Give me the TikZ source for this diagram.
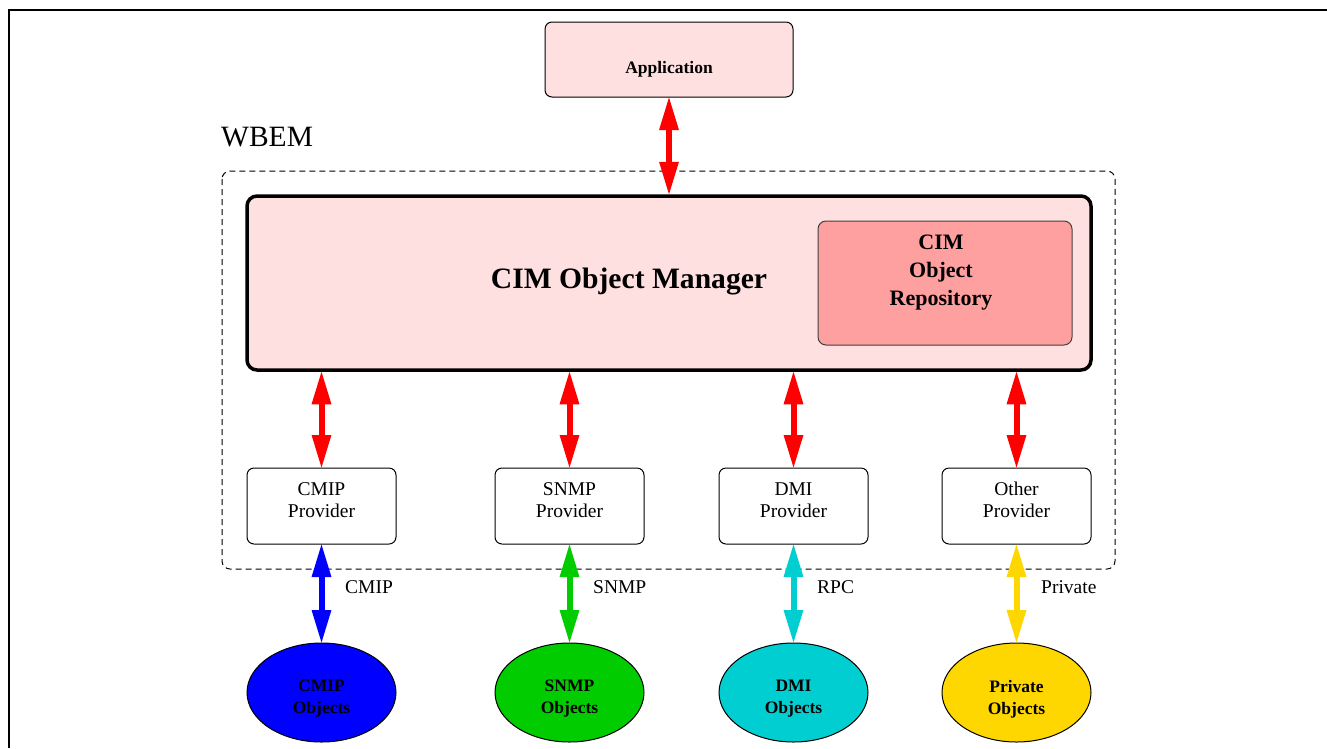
\documentclass[tikz,border=0pt]{standalone}
\usepackage{fontspec}
\setmainfont{Liberation Serif}
\usetikzlibrary{arrows.meta,shapes.geometric}
\definecolor{lightpink}{HTML}{FFE0E0}
\definecolor{repopink}{HTML}{FFA0A0}
\definecolor{objblue}{HTML}{0000FF}
\definecolor{objgreen}{HTML}{00CC00}
\definecolor{objcyan}{HTML}{00CED1}
\definecolor{objgold}{HTML}{FFD700}
\begin{document}
\begin{tikzpicture}[x=1pt,y=-1pt,
  provbox/.style={draw, line width=1pt, rounded corners=7pt, fill=white, minimum width=149pt, minimum height=76pt, inner sep=0pt},
  provtext/.style={inner sep=0pt, align=center, font=\fontsize{19.5}{22}\selectfont},
  objell/.style={ellipse, draw, line width=1pt, minimum width=149pt, minimum height=99pt, inner sep=0pt},
  objtext/.style={inner sep=0pt, align=center, font=\fontsize{17.5}{22}\selectfont\bfseries},
  dblarrow/.style={line width=6pt, draw=#1, {Triangle[width=18pt,length=34pt]}-{Triangle[width=18pt,length=34pt]}, shorten >=-1.5pt, shorten <=-1.5pt},
  linklabel/.style={anchor=west, inner sep=0pt, font=\fontsize{19.5}{22}\selectfont}
]
\useasboundingbox (0,0) rectangle (1327,748);
\fill[white] (0,0) rectangle (1327,748);
% frame
\draw[line width=2pt] (1327,10) -- (9,10) -- (9,748);

% WBEM dashed region
\draw[dashed, dash pattern=on 6pt off 4pt, line width=1pt, rounded corners=8pt] (222,171) rectangle (1115,569);
\node[anchor=west, inner sep=0pt, font=\fontsize{29.5}{30}\selectfont] (wbem) at (221,137) {WBEM};

% Application
\node[draw, line width=1pt, rounded corners=7pt, fill=lightpink, minimum width=248pt, minimum height=75pt, inner sep=0pt] (app) at (669,59.5) {};
\node[inner sep=0pt, font=\fontsize{17.5}{20}\selectfont\bfseries] (apptext) at (669,69) {Application};

% CIM Object Manager
\node[draw, line width=3.5pt, rounded corners=10pt, fill=lightpink, minimum width=844pt, minimum height=174pt, inner sep=0pt] (mgr) at (669,283) {};
\node[inner sep=0pt, font=\fontsize{29.6}{32}\selectfont\bfseries] (mgrtext) at (629,281) {CIM Object Manager};
\node[draw=black!75, line width=1pt, rounded corners=8pt, fill=repopink, minimum width=254pt, minimum height=124pt, inner sep=0pt] (repo) at (945,283) {};
\node[inner sep=0pt, align=center, font=\fontsize{22}{28}\selectfont\bfseries] (repotext) at (941,273) {CIM\\Object\\Repository};

% Providers
\node[provbox] (pcmip) at (321.5,506) {};
\node[provbox] (psnmp) at (569.5,506) {};
\node[provbox] (pdmi) at (793.5,506) {};
\node[provbox] (pother) at (1016.5,506) {};
\node[provtext] (tcmip) at (321.5,500) {CMIP\\Provider};
\node[provtext] (tsnmp) at (569.5,500) {SNMP\\Provider};
\node[provtext] (tdmi) at (793.5,500) {DMI\\Provider};
\node[provtext] (tother) at (1016.5,500) {Other\\Provider};

% Objects
\node[objell, fill=objblue] (ocmip) at (321.5,692.5) {};
\node[objell, fill=objgreen] (osnmp) at (569.5,692.5) {};
\node[objell, fill=objcyan] (odmi) at (793.5,692.5) {};
\node[objell, fill=objgold] (oprivate) at (1016.5,692.5) {};
\node[objtext] (tocmip) at (321.5,699) {CMIP\\Objects};
\node[objtext] (tosnmp) at (569.5,699) {SNMP\\Objects};
\node[objtext] (todmi) at (793.5,699) {DMI\\Objects};
\node[objtext] (toprivate) at (1016.5,699) {Private\\Objects};

% red arrows
\draw[dblarrow=red] (app.south) -- (app.south |- mgr.north);
\draw[dblarrow=red] (pcmip.north |- mgr.south) -- (pcmip.north);
\draw[dblarrow=red] (psnmp.north |- mgr.south) -- (psnmp.north);
\draw[dblarrow=red] (pdmi.north |- mgr.south) -- (pdmi.north);
\draw[dblarrow=red] (pother.north |- mgr.south) -- (pother.north);

% coloured arrows
\draw[dblarrow=objblue] (pcmip.south) -- (ocmip.north);
\draw[dblarrow=objgreen] (psnmp.south) -- (osnmp.north);
\draw[dblarrow=objcyan] (pdmi.south) -- (odmi.north);
\draw[dblarrow=objgold] (pother.south) -- (oprivate.north);

% labels
\node[linklabel] (lcmip) at (345,587) {CMIP};
\node[linklabel] (lsnmp) at (593,587) {SNMP};
\node[linklabel] (lrpc) at (817,587) {RPC};
\node[linklabel] (lpriv) at (1041,587) {Private};
\end{tikzpicture}
\end{document}
